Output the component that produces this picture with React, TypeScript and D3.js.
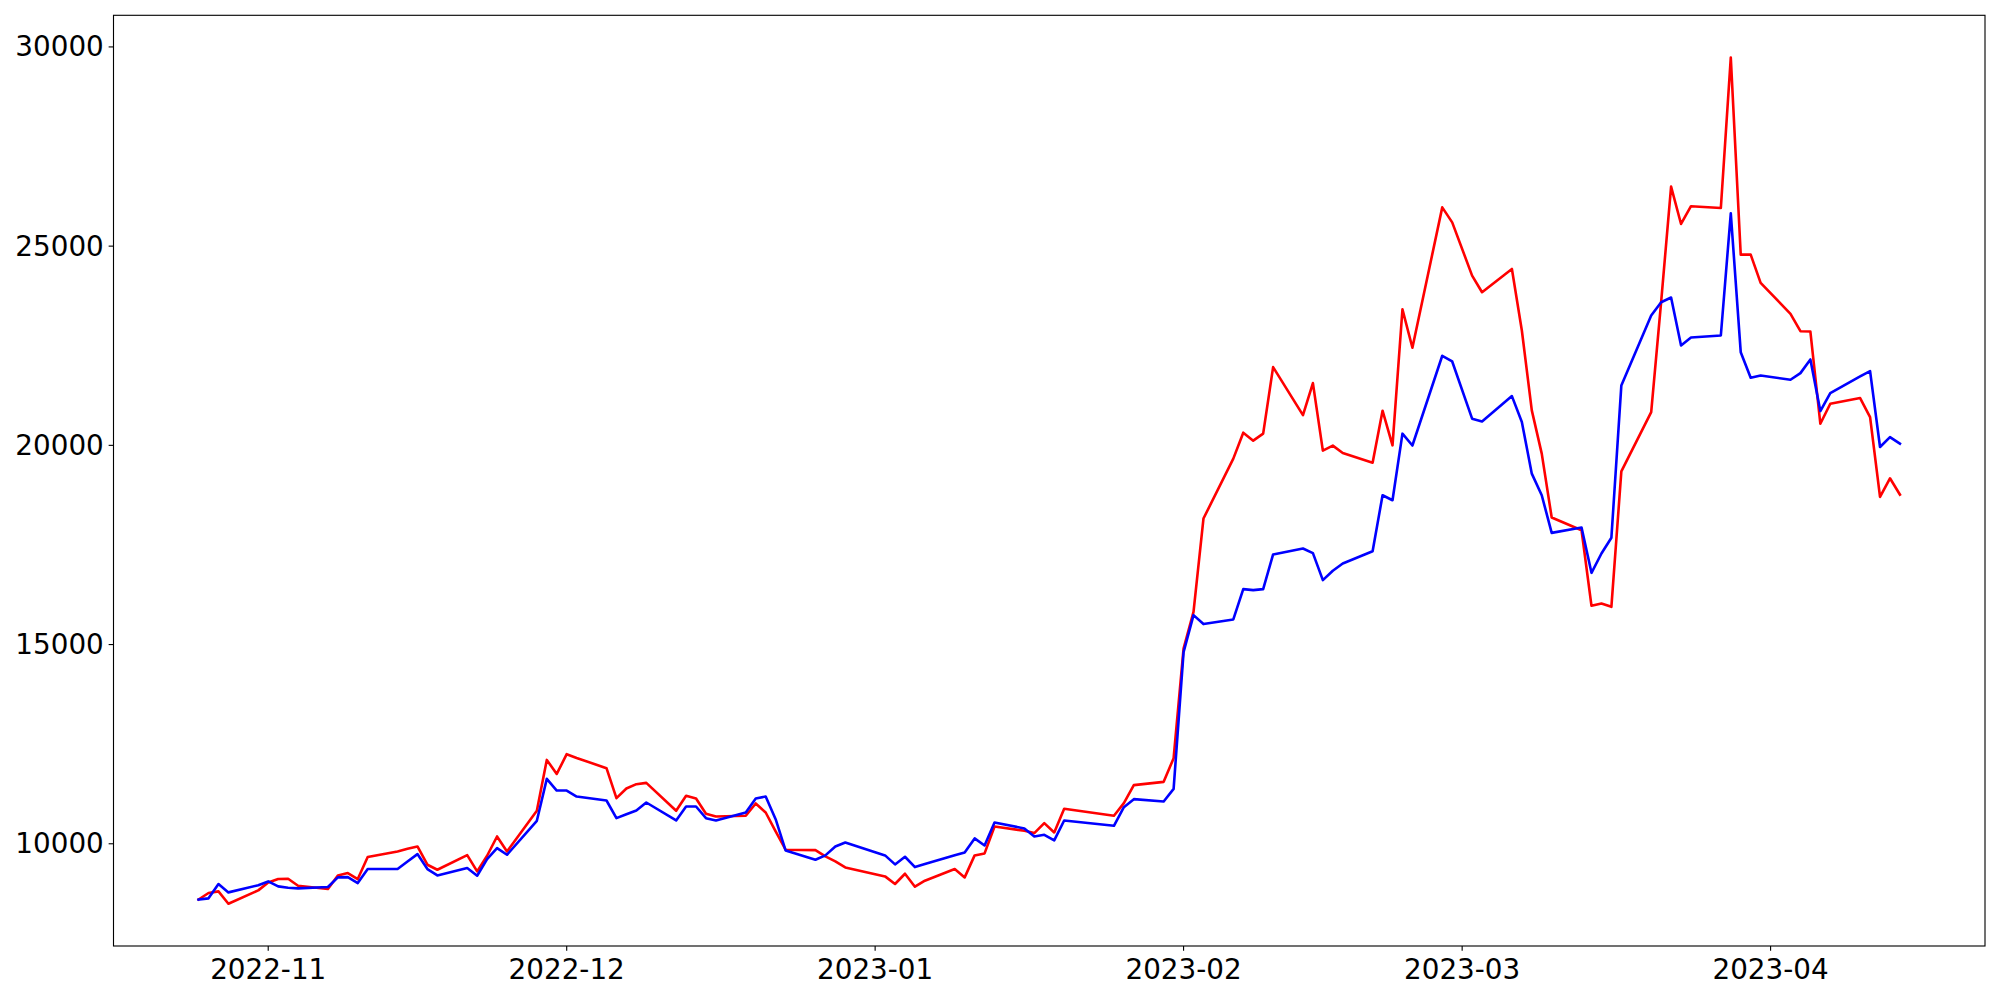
import React from 'react';
import * as d3 from 'd3';

const dates = [
  '2022-10-25','2022-10-26','2022-10-27','2022-10-28','2022-10-31',
  '2022-11-01','2022-11-02','2022-11-03','2022-11-04',
  '2022-11-07','2022-11-08','2022-11-09','2022-11-10','2022-11-11',
  '2022-11-14','2022-11-15','2022-11-16','2022-11-17','2022-11-18',
  '2022-11-21','2022-11-22','2022-11-23','2022-11-24','2022-11-25',
  '2022-11-28','2022-11-29','2022-11-30',
  '2022-12-01','2022-12-02',
  '2022-12-05','2022-12-06','2022-12-07','2022-12-08','2022-12-09',
  '2022-12-12','2022-12-13','2022-12-14','2022-12-15','2022-12-16',
  '2022-12-19','2022-12-20','2022-12-21','2022-12-22','2022-12-23',
  '2022-12-26','2022-12-27','2022-12-28','2022-12-29',
  '2023-01-02','2023-01-03','2023-01-04','2023-01-05','2023-01-06',
  '2023-01-09','2023-01-10','2023-01-11','2023-01-12','2023-01-13',
  '2023-01-16','2023-01-17','2023-01-18','2023-01-19','2023-01-20',
  '2023-01-25','2023-01-26','2023-01-27',
  '2023-01-30','2023-01-31',
  '2023-02-01','2023-02-02','2023-02-03',
  '2023-02-06','2023-02-07','2023-02-08','2023-02-09','2023-02-10',
  '2023-02-13','2023-02-14','2023-02-15','2023-02-16','2023-02-17',
  '2023-02-20','2023-02-21','2023-02-22','2023-02-23','2023-02-24',
  '2023-02-27','2023-02-28',
  '2023-03-02','2023-03-03',
  '2023-03-06','2023-03-07','2023-03-08','2023-03-09','2023-03-10',
  '2023-03-13','2023-03-14','2023-03-15','2023-03-16','2023-03-17',
  '2023-03-20','2023-03-21','2023-03-22','2023-03-23','2023-03-24',
  '2023-03-27','2023-03-28','2023-03-29','2023-03-30','2023-03-31',
  '2023-04-03','2023-04-04','2023-04-05','2023-04-06','2023-04-07',
  '2023-04-10','2023-04-11','2023-04-12','2023-04-13','2023-04-14',
];

const redValues = [
  8600, 8764, 8805, 8496, 8830,
  9030, 9115, 9123, 8947,
  8865, 9206, 9265, 9115, 9667,
  9807, 9875, 9933, 9474, 9348,
  9716, 9306, 9700, 10183, 9807,
  10827, 12105, 11754,
  12248, 12155,
  11897, 11145, 11386, 11496, 11529,
  10827, 11203, 11136, 10752, 10685,
  10702, 11011, 10785, 10309, 9850,
  9841, 9682, 9557, 9407,
  9181, 8990, 9248, 8922, 9073,
  9365, 9156, 9708, 9758, 10434,
  10326, 10268, 10518, 10284, 10877,
  10702, 11020, 11471,
  11554, 12148,
  14900, 15822, 18163,
  19667, 20318, 20118, 20293, 21963,
  20760, 21562, 19867, 19992, 19807,
  19566, 20869, 20000, 23414, 22449,
  25973, 25597,
  24261, 23843,
  24428, 22882, 20877, 19792, 18188,
  17870, 15973, 16032, 15948, 19345,
  20835, 23600, 26495, 25556, 26002,
  25957, 29732, 24787, 24787, 24078,
  23300, 22865, 22857, 20543, 21045,
  21186, 20710, 18705, 19173, 18764,
];

const blueValues = [
  8600, 8630, 8990, 8780, 8960,
  9055, 8930, 8897, 8880,
  8914, 9156, 9164, 9014, 9365,
  9365, 9557, 9741, 9365, 9206,
  9390, 9198, 9616, 9891, 9724,
  10576, 11629, 11336,
  11336, 11186,
  11086, 10643, 10743, 10835, 11036,
  10585, 10936, 10936, 10643, 10585,
  10785, 11136, 11186, 10618, 9833,
  9599, 9708, 9933, 10033,
  9708, 9482, 9674, 9415, 9490,
  9709, 9783, 10134, 9958, 10535,
  10384, 10184, 10226, 10084, 10585,
  10451, 10919, 11120,
  11061, 11378,
  14812, 15739, 15514,
  15631, 16391, 16366, 16391, 17261,
  17411, 17295, 16617, 16851, 17035,
  17343, 18747, 18622, 20293, 19996,
  22248, 22105,
  20669, 20601,
  21236, 20584, 19290, 18747, 17803,
  17937, 16800, 17286, 17682, 21504,
  23258, 23592, 23710, 22506, 22707,
  22757, 25823, 22339, 21696, 21754,
  21646, 21813, 22156, 20860, 21311,
  21730, 21863, 19958, 20208, 20042,
];

const yTicks = [10000, 15000, 20000, 25000, 30000];

export default function App() {
  const W = 2000;
  const H = 1000;
  const left = 113.5;
  const right = 1985;
  const top = 15.3;
  const bottom = 946;
  const font = 'DejaVu Sans';
  const fontSize = 27.8;
  const tickLen = 4.86;

  const parse = d3.timeParse('%Y-%m-%d');
  const ds = dates.map((d) => parse(d) as Date);
  const t0 = ds[0].getTime();
  const t1 = ds[ds.length - 1].getTime();
  const xpad = (t1 - t0) * 0.05;
  const x = d3
    .scaleTime()
    .domain([new Date(t0 - xpad), new Date(t1 + xpad)])
    .range([left, right]);

  const all = redValues.concat(blueValues);
  const vmin = d3.min(all) as number;
  const vmax = d3.max(all) as number;
  const ypad = (vmax - vmin) * 0.05;
  const y = d3.scaleLinear().domain([vmin - ypad, vmax + ypad]).range([bottom, top]);

  const xd = x.domain();
  const xTicks = d3.timeMonth.range(d3.timeMonth.ceil(xd[0]), xd[1]);
  const fmt = d3.timeFormat('%Y-%m');

  const line = d3
    .line<number>()
    .x((_, i) => x(ds[i]))
    .y((v) => y(v));

  return (
    <svg
      width={W}
      height={H}
      viewBox={`0 0 ${W} ${H}`}
      style={{ position: 'absolute', left: 0, top: 0, background: '#fff' }}
    >
      <rect x={0} y={0} width={W} height={H} fill="#fff" />
      <path
        d={line(redValues) || ''}
        fill="none"
        stroke="#ff0000"
        strokeWidth={2.6}
        strokeLinejoin="round"
        strokeLinecap="square"
      />
      <path
        d={line(blueValues) || ''}
        fill="none"
        stroke="#0000ff"
        strokeWidth={2.6}
        strokeLinejoin="round"
        strokeLinecap="square"
      />
      <rect
        x={left}
        y={top}
        width={right - left}
        height={bottom - top}
        fill="none"
        stroke="#000"
        strokeWidth={1.11}
      />
      {yTicks.map((t) => (
        <g key={`y${t}`}>
          <line x1={left - tickLen} x2={left} y1={y(t)} y2={y(t)} stroke="#000" strokeWidth={1.11} />
          <text
            x={left - tickLen - 4.86}
            y={y(t)}
            textAnchor="end"
            dominantBaseline="central"
            fontFamily={font}
            fontSize={fontSize}
            fill="#000"
          >
            {t}
          </text>
        </g>
      ))}
      {xTicks.map((t) => (
        <g key={`x${t.getTime()}`}>
          <line x1={x(t)} x2={x(t)} y1={bottom} y2={bottom + tickLen} stroke="#000" strokeWidth={1.11} />
          <text
            x={x(t)}
            y={979}
            textAnchor="middle"
            fontFamily={font}
            fontSize={fontSize}
            fill="#000"
          >
            {fmt(t)}
          </text>
        </g>
      ))}
    </svg>
  );
}
